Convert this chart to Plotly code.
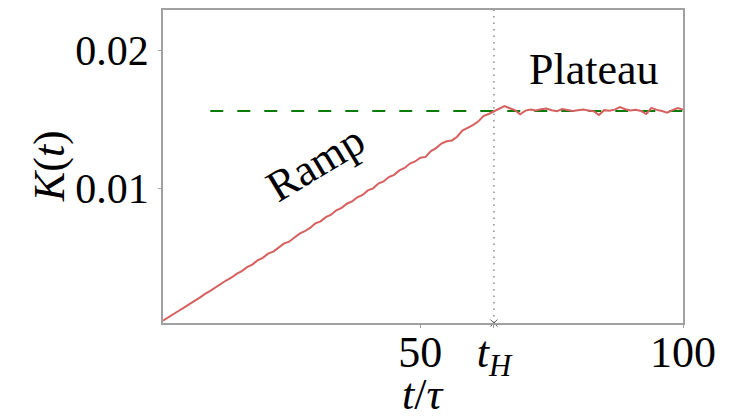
import plotly.graph_objects as go

# Data
t_values = list(range(1, 101))
K_values = [
    0.00038, 0.00060, 0.00088, 0.00110, 0.00133, 0.00160, 0.00182, 0.00205, 0.00233, 0.00254,
    0.00281, 0.00302, 0.00330, 0.00350, 0.00378, 0.00398, 0.00427, 0.00446, 0.00476, 0.00495,
    0.00525, 0.00540, 0.00572, 0.00598, 0.00612, 0.00640, 0.00670, 0.00688, 0.00712, 0.00745,
    0.00760, 0.00790, 0.00808, 0.00840, 0.00858, 0.00888, 0.00905, 0.00935, 0.00952, 0.00985,
    0.01000, 0.01035, 0.01050, 0.01082, 0.01098, 0.01130, 0.01148, 0.01180, 0.01195, 0.01222,
    0.01228, 0.01270, 0.01292, 0.01325, 0.01342, 0.01348, 0.01375, 0.01420, 0.01438, 0.01460,
    0.01485, 0.01525, 0.01540, 0.01560,
    0.01575, 0.01598, 0.01582, 0.01568, 0.01538, 0.01565, 0.01572, 0.01566, 0.01575, 0.01580,
    0.01568, 0.01560, 0.01576, 0.01570, 0.01562, 0.01568, 0.01572, 0.01566, 0.01560, 0.01533,
    0.01568, 0.01564, 0.01572, 0.01590, 0.01575, 0.01566, 0.01570, 0.01562, 0.01540, 0.01585,
    0.01570, 0.01562, 0.01550, 0.01568, 0.01584, 0.01572,
]
plateau_level = 0.01562
plateau_x = [10, 100]
t_H = 64
x_range = [1, 100]
y_range = [0.00021, 0.02296]
x_tickvals = [50, t_H, 100]
x_ticktext = ["50", "<i>t</i><sub><i>H</i></sub>", "100"]
y_tickvals = [0.01, 0.02]
y_ticktext = ["0.01", "0.02"]

FONT = "'Liberation Serif', 'DejaVu Serif', serif"
AXIS_GRAY = "#a0a0a0"

fig = go.Figure()

fig.add_trace(go.Scatter(
    x=plateau_x, y=[plateau_level, plateau_level], mode="lines",
    line=dict(color="#0a7a0a", width=2, dash="13px,14px"), hoverinfo="skip"))

fig.add_trace(go.Scatter(
    x=[t_H, t_H], y=y_range, mode="lines",
    line=dict(color="#8a8a8a", width=1.5, dash="1.5px,5px"), hoverinfo="skip"))

fig.add_trace(go.Scatter(
    x=t_values, y=K_values, mode="lines",
    line=dict(color="rgb(214,96,96)", width=2)))

fig.add_trace(go.Scatter(
    x=[t_H], y=[y_range[0]], mode="markers", cliponaxis=False,
    marker=dict(symbol="x-thin", size=7, line=dict(color="#555555", width=1)),
    hoverinfo="skip"))

fig.update_layout(
    width=731, height=420,
    margin=dict(l=163, r=48, t=10, b=97),
    paper_bgcolor="white", plot_bgcolor="white",
    showlegend=False,
    font=dict(family=FONT, size=44, color="black"),
    xaxis=dict(
        range=x_range, tickvals=x_tickvals, ticktext=x_ticktext,
        showgrid=False, zeroline=False, showline=True, mirror=True,
        linecolor=AXIS_GRAY, linewidth=1.5, ticks="outside", ticklen=3,
        tickcolor=AXIS_GRAY, tickfont=dict(family=FONT, size=44),
        ticklabelstandoff=-14,
        automargin=False,
    ),
    yaxis=dict(
        range=y_range, tickvals=y_tickvals, ticktext=y_ticktext,
        showgrid=False, zeroline=False, showline=True, mirror=True,
        linecolor=AXIS_GRAY, linewidth=1.5, ticks="outside", ticklen=3,
        tickcolor=AXIS_GRAY, tickfont=dict(family=FONT, size=42),
        ticklabelstandoff=1,
        automargin=False,
    ),
    annotations=[
        dict(x=30, y=0.0118, xref="x", yref="y", text="Ramp", showarrow=False,
             textangle=-31, font=dict(family=FONT, size=44)),
        dict(x=83, y=0.0186, xref="x", yref="y", text="Plateau", showarrow=False,
             font=dict(family=FONT, size=44)),
        dict(x=0.5, y=-0.228, xref="paper", yref="paper", text="<i>t</i>/<i>τ</i>",
             showarrow=False, xanchor="center", yanchor="middle",
             font=dict(family=FONT, size=44)),
        dict(x=-0.218, y=0.5, xref="paper", yref="paper", text="<i>K</i>(<i>t</i>)",
             showarrow=False, xanchor="center", yanchor="middle", textangle=-90,
             font=dict(family=FONT, size=44)),
    ],
)

fig.write_html("out.html", config={"displayModeBar": False})

# Remove the browser's default body margin so the figure sits at the page origin
with open("out.html", "r", encoding="utf-8") as f:
    html = f.read()
html = html.replace("<body>", '<body style="margin:0;padding:0;overflow:hidden">', 1)
with open("out.html", "w", encoding="utf-8") as f:
    f.write(html)
